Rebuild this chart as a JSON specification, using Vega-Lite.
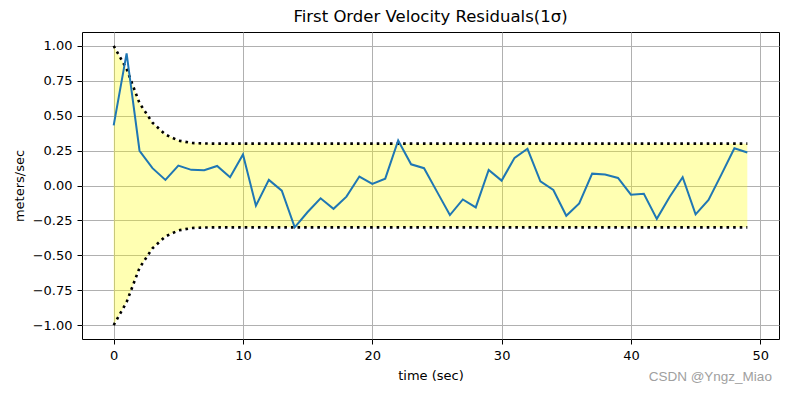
{
  "$schema": "https://vega.github.io/schema/vega-lite/v6.json",
  "autosize": {"type": "none"},
  "padding": {"left": 82, "top": 32, "right": 10, "bottom": 54},
  "width": 697,
  "height": 307,
  "background": "white",
  "title": {"text": "First Order Velocity Residuals(1σ)", "font": "DejaVu Sans", "fontSize": 16.5, "fontWeight": "normal", "color": "black", "offset": 7},
  "config": {
    "view": {"stroke": "black", "strokeWidth": 1},
    "axis": {
      "labelFont": "DejaVu Sans", "labelFontSize": 13, "labelColor": "black", "labelOverlap": false,
      "titleFont": "DejaVu Sans", "titleFontSize": 13, "titleFontWeight": "normal", "titleColor": "black",
      "grid": true, "gridColor": "#b0b0b0", "gridWidth": 1,
      "domain": false, "tickColor": "black", "tickSize": 5, "tickWidth": 1, "labelPadding": 5
    }
  },
  "data": {"values": [
    {"t": 0, "r": 0.431, "up": 1.0, "lo": -1.0},
    {"t": 1, "r": 0.947, "up": 0.835, "lo": -0.835},
    {"t": 2, "r": 0.249, "up": 0.59, "lo": -0.59},
    {"t": 3, "r": 0.124, "up": 0.45, "lo": -0.45},
    {"t": 4, "r": 0.04, "up": 0.365, "lo": -0.365},
    {"t": 5, "r": 0.143, "up": 0.322, "lo": -0.322},
    {"t": 6, "r": 0.112, "up": 0.305, "lo": -0.305},
    {"t": 7, "r": 0.109, "up": 0.301, "lo": -0.301},
    {"t": 8, "r": 0.14, "up": 0.3, "lo": -0.3},
    {"t": 9, "r": 0.059, "up": 0.3, "lo": -0.3},
    {"t": 10, "r": 0.222, "up": 0.3, "lo": -0.3},
    {"t": 11, "r": -0.145, "up": 0.3, "lo": -0.3},
    {"t": 12, "r": 0.04, "up": 0.3, "lo": -0.3},
    {"t": 13, "r": -0.037, "up": 0.3, "lo": -0.3},
    {"t": 14, "r": -0.3, "up": 0.3, "lo": -0.3},
    {"t": 15, "r": -0.19, "up": 0.3, "lo": -0.3},
    {"t": 16, "r": -0.092, "up": 0.3, "lo": -0.3},
    {"t": 17, "r": -0.167, "up": 0.3, "lo": -0.3},
    {"t": 18, "r": -0.08, "up": 0.3, "lo": -0.3},
    {"t": 19, "r": 0.064, "up": 0.3, "lo": -0.3},
    {"t": 20, "r": 0.011, "up": 0.3, "lo": -0.3},
    {"t": 21, "r": 0.049, "up": 0.3, "lo": -0.3},
    {"t": 22, "r": 0.323, "up": 0.3, "lo": -0.3},
    {"t": 23, "r": 0.152, "up": 0.3, "lo": -0.3},
    {"t": 24, "r": 0.124, "up": 0.3, "lo": -0.3},
    {"t": 25, "r": -0.044, "up": 0.3, "lo": -0.3},
    {"t": 26, "r": -0.212, "up": 0.3, "lo": -0.3},
    {"t": 27, "r": -0.1, "up": 0.3, "lo": -0.3},
    {"t": 28, "r": -0.157, "up": 0.3, "lo": -0.3},
    {"t": 29, "r": 0.112, "up": 0.3, "lo": -0.3},
    {"t": 30, "r": 0.035, "up": 0.3, "lo": -0.3},
    {"t": 31, "r": 0.198, "up": 0.3, "lo": -0.3},
    {"t": 32, "r": 0.263, "up": 0.3, "lo": -0.3},
    {"t": 33, "r": 0.03, "up": 0.3, "lo": -0.3},
    {"t": 34, "r": -0.032, "up": 0.3, "lo": -0.3},
    {"t": 35, "r": -0.217, "up": 0.3, "lo": -0.3},
    {"t": 36, "r": -0.128, "up": 0.3, "lo": -0.3},
    {"t": 37, "r": 0.085, "up": 0.3, "lo": -0.3},
    {"t": 38, "r": 0.078, "up": 0.3, "lo": -0.3},
    {"t": 39, "r": 0.054, "up": 0.3, "lo": -0.3},
    {"t": 40, "r": -0.066, "up": 0.3, "lo": -0.3},
    {"t": 41, "r": -0.059, "up": 0.3, "lo": -0.3},
    {"t": 42, "r": -0.239, "up": 0.3, "lo": -0.3},
    {"t": 43, "r": -0.08, "up": 0.3, "lo": -0.3},
    {"t": 44, "r": 0.059, "up": 0.3, "lo": -0.3},
    {"t": 45, "r": -0.207, "up": 0.3, "lo": -0.3},
    {"t": 46, "r": -0.104, "up": 0.3, "lo": -0.3},
    {"t": 47, "r": 0.08, "up": 0.3, "lo": -0.3},
    {"t": 48, "r": 0.267, "up": 0.3, "lo": -0.3},
    {"t": 49, "r": 0.236, "up": 0.3, "lo": -0.3}
  ]},
  "layer": [
    {
      "mark": {"type": "area", "color": "yellow", "opacity": 0.3},
      "encoding": {
        "x": {"field": "t", "type": "quantitative",
          "scale": {"domain": [-2.45, 51.45], "nice": false, "zero": false},
          "axis": {"title": "time (sec)", "values": [0, 10, 20, 30, 40, 50], "tickCount": 20, "format": "d", "titlePadding": 7, "labelOverlap": false}},
        "y": {"field": "lo", "type": "quantitative",
          "scale": {"domain": [-1.1, 1.1], "nice": false, "zero": false},
          "axis": {"title": "meters/sec", "values": [-1, -0.75, -0.5, -0.25, 0, 0.25, 0.5, 0.75, 1], "tickCount": 20, "format": ".2f", "titlePadding": 6, "labelOverlap": false}},
        "y2": {"field": "up"}
      }
    },
    {
      "mark": {"type": "line", "color": "black", "strokeWidth": 2.6, "strokeDash": [2.6, 4], "strokeCap": "butt"},
      "encoding": {"x": {"field": "t", "type": "quantitative"}, "y": {"field": "up", "type": "quantitative"}}
    },
    {
      "mark": {"type": "line", "color": "black", "strokeWidth": 2.6, "strokeDash": [2.6, 4], "strokeCap": "butt"},
      "encoding": {"x": {"field": "t", "type": "quantitative"}, "y": {"field": "lo", "type": "quantitative"}}
    },
    {
      "mark": {"type": "line", "color": "#1f77b4", "strokeWidth": 2},
      "encoding": {"x": {"field": "t", "type": "quantitative"}, "y": {"field": "r", "type": "quantitative"}}
    },
    {
      "data": {"values": [{"label": "CSDN @Yngz_Miao", "wx": 50.9, "wy": -1.371}]},
      "mark": {"type": "text", "align": "right", "baseline": "middle", "font": "Liberation Sans", "fontSize": 13.5, "fill": "#a0a0a0", "clip": false},
      "encoding": {
        "x": {"field": "wx", "type": "quantitative"},
        "y": {"field": "wy", "type": "quantitative"},
        "text": {"field": "label"}
      }
    }
  ]
}
